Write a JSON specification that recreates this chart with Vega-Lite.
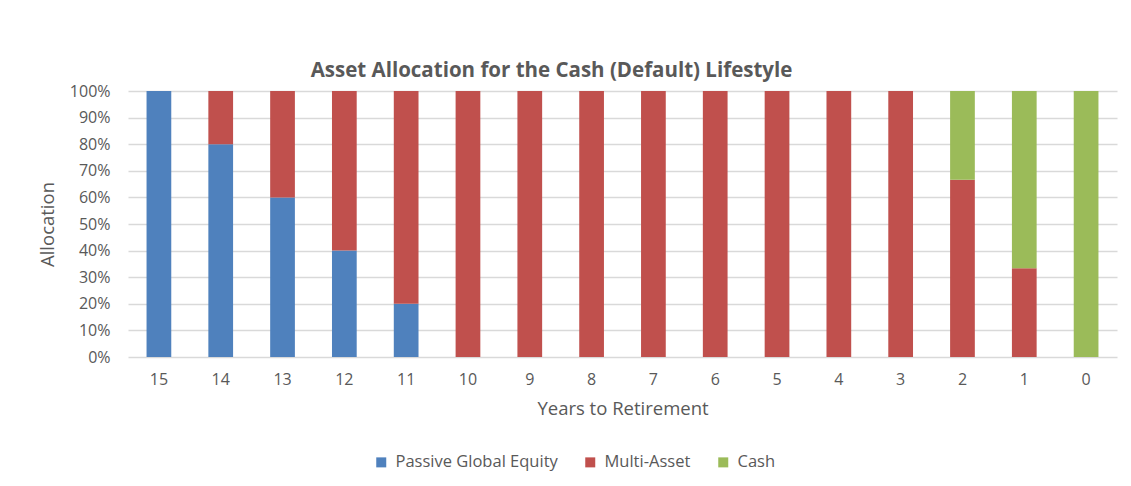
{
  "$schema": "https://vega.github.io/schema/vega-lite/v6.json",
  "width": 989,
  "height": 266,
  "autosize": {"type": "none"},
  "padding": {"left": 128, "top": 91, "right": 14, "bottom": 129},
  "background": "white",
  "title": {
    "text": "Asset Allocation for the Cash (Default) Lifestyle",
    "font": "Open Sans",
    "fontSize": 20.5,
    "fontWeight": "bold",
    "color": "#595959",
    "offset": 2,
    "dx": -71
  },
  "data": {
    "values": [
      {"years": 15, "fund": "Passive Global Equity", "share": 1.0},
      {"years": 14, "fund": "Passive Global Equity", "share": 0.8},
      {"years": 14, "fund": "Multi-Asset", "share": 0.2},
      {"years": 13, "fund": "Passive Global Equity", "share": 0.6},
      {"years": 13, "fund": "Multi-Asset", "share": 0.4},
      {"years": 12, "fund": "Passive Global Equity", "share": 0.4},
      {"years": 12, "fund": "Multi-Asset", "share": 0.6},
      {"years": 11, "fund": "Passive Global Equity", "share": 0.2},
      {"years": 11, "fund": "Multi-Asset", "share": 0.8},
      {"years": 10, "fund": "Multi-Asset", "share": 1.0},
      {"years": 9, "fund": "Multi-Asset", "share": 1.0},
      {"years": 8, "fund": "Multi-Asset", "share": 1.0},
      {"years": 7, "fund": "Multi-Asset", "share": 1.0},
      {"years": 6, "fund": "Multi-Asset", "share": 1.0},
      {"years": 5, "fund": "Multi-Asset", "share": 1.0},
      {"years": 4, "fund": "Multi-Asset", "share": 1.0},
      {"years": 3, "fund": "Multi-Asset", "share": 1.0},
      {"years": 2, "fund": "Multi-Asset", "share": 0.6667},
      {"years": 2, "fund": "Cash", "share": 0.3333},
      {"years": 1, "fund": "Multi-Asset", "share": 0.3333},
      {"years": 1, "fund": "Cash", "share": 0.6667},
      {"years": 0, "fund": "Cash", "share": 1.0}
    ]
  },
  "transform": [
    {"calculate": "indexof(['Passive Global Equity','Multi-Asset','Cash'], datum.fund)", "as": "stackOrder"}
  ],
  "mark": {"type": "bar"},
  "encoding": {
    "x": {
      "field": "years",
      "type": "ordinal",
      "sort": [15, 14, 13, 12, 11, 10, 9, 8, 7, 6, 5, 4, 3, 2, 1, 0],
      "scale": {"paddingInner": 0.6, "paddingOuter": 0.3},
      "axis": {
        "title": "Years to Retirement",
        "labelAngle": 0,
        "ticks": false,
        "domain": false,
        "grid": false,
        "labelPadding": 14,
        "titlePadding": 12
      }
    },
    "y": {
      "field": "share",
      "type": "quantitative",
      "stack": "zero",
      "scale": {"domain": [0, 1]},
      "axis": {
        "title": "Allocation",
        "format": ".0%",
        "values": [0, 0.1, 0.2, 0.3, 0.4, 0.5, 0.6, 0.7, 0.8, 0.9, 1.0],
        "ticks": false,
        "domain": false,
        "grid": true,
        "labelPadding": 18,
        "titlePadding": 12
      }
    },
    "color": {
      "field": "fund",
      "type": "nominal",
      "scale": {
        "domain": ["Passive Global Equity", "Multi-Asset", "Cash"],
        "range": ["#4F81BD", "#C0504D", "#9BBB59"]
      },
      "legend": {
        "title": null,
        "orient": "none",
        "direction": "horizontal",
        "legendX": 245,
        "legendY": 363,
        "symbolType": "square",
        "symbolSize": 100,
        "symbolStrokeWidth": 0,
        "columnPadding": 24,
        "labelOffset": 6,
        "labelLimit": 400
      }
    },
    "order": {"field": "stackOrder", "type": "quantitative", "sort": "ascending"}
  },
  "config": {
    "font": "Open Sans",
    "view": {"stroke": null},
    "axis": {
      "labelFont": "Open Sans",
      "labelFontSize": 16,
      "labelColor": "#595959",
      "titleFont": "Open Sans",
      "titleFontSize": 18.5,
      "titleFontWeight": "normal",
      "titleColor": "#595959",
      "gridColor": "#D9D9D9",
      "gridWidth": 1.3
    },
    "legend": {
      "labelFont": "Open Sans",
      "labelFontSize": 16.5,
      "labelColor": "#595959"
    }
  }
}
